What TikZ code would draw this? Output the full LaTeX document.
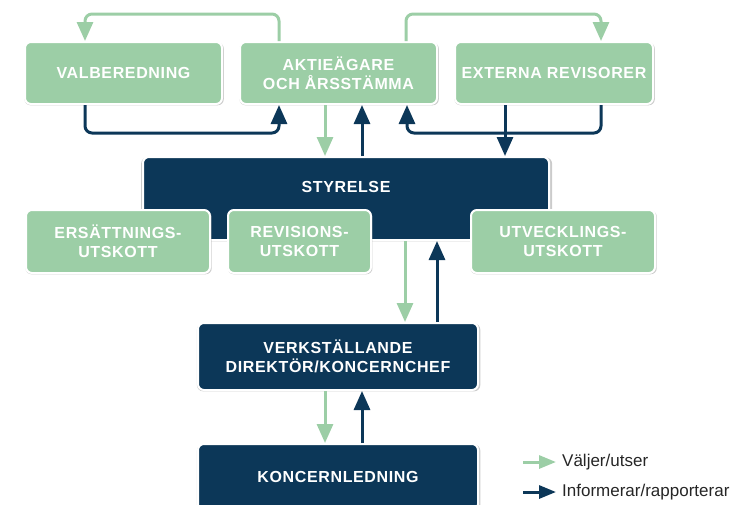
\documentclass[tikz,border=0pt]{standalone}
\usepackage{fontspec}
\setmainfont{Liberation Sans}
\usetikzlibrary{arrows.meta,shadows}
\definecolor{boardgreen}{RGB}{156,206,166}
\definecolor{boardblue}{RGB}{12,55,88}

\begin{document}
\begin{tikzpicture}[x=1pt,y=-1pt,
   boxfont/.style={text=white,align=center,
    font=\fontsize{16}{19}\selectfont\bfseries\addfontfeature{LetterSpace=4}},
   box/.style={rectangle,rounded corners=6pt,draw=white,line width=2pt,
    inner sep=0pt,boxfont,
    drop shadow={shadow xshift=0.6pt,shadow yshift=-0.9pt,shadow scale=1.012,
      opacity=0.45,fill=black!45}},
   greenbox/.style={box,fill=boardgreen,minimum height=62pt},
   bluebox/.style={box,fill=boardblue},
   selects/.style={draw=boardgreen,line width=3pt,
    -{Triangle[length=19pt,width=16pt]}},
   reports/.style={draw=boardblue,line width=3pt,
    -{Triangle[length=19pt,width=16pt]}},
   legtext/.style={anchor=west,inner sep=0pt,text=black!85,
    font=\fontsize{17}{20}\selectfont}
    ]
  \useasboundingbox (0,0) rectangle (733,504);

  % -- top row
  \node[greenbox,minimum width=197pt] at (123.5,73) (val) {VALBEREDNING};
  \node[greenbox,minimum width=197pt] at (338.5,73) (aga) {AKTIEÄGARE\\OCH ÅRSSTÄMMA};
  \node[greenbox,minimum width=198pt] at (554,73) (ext) {EXTERNA REVISORER};

  % -- board and committees
  \node[bluebox,minimum width=406pt,minimum height=83pt] at (346,198.5) (sty) {};
  \node[boxfont] at (346,187) (stytext) {STYRELSE};
  \node[greenbox,minimum width=184pt,minimum height=63pt] at (118,241.5) (ers) {ERSÄTTNINGS-\\UTSKOTT};
  \node[greenbox,minimum width=143pt,minimum height=63pt] at (299.5,241.5) (rev) {REVISIONS-\\UTSKOTT};
  \node[greenbox,minimum width=184pt,minimum height=63pt] at (563,241.5) (utv) {UTVECKLINGS-\\UTSKOTT};

  % -- management
  \node[bluebox,minimum width=280pt,minimum height=67pt] at (338,356.5) (vd) {VERKSTÄLLANDE\\DIREKTÖR/KONCERNCHEF};
  \node[bluebox,minimum width=280pt,minimum height=66pt] at (338,477) (kl) {KONCERNLEDNING};

  % -- arrows between top row
  \draw[selects,rounded corners=7pt] ([xshift=-59.5]aga.north) -- ++(0,-27) -| ([xshift=-38.5]val.north);
  \draw[reports,rounded corners=7pt] ([xshift=-38.5]val.south) -- ++(0,28) -| ([xshift=-59.5]aga.south);
  \draw[selects,rounded corners=7pt] ([xshift=67.5]aga.north) -- ++(0,-27) -| ([xshift=47]ext.north);
  \draw[reports,rounded corners=7pt] ([xshift=47]ext.south) -- ++(0,28) -| ([xshift=68.5]aga.south);

  % -- arrows down the chain
  \draw[reports] ([xshift=-49]ext.south) -- ([xshift=-49]ext.south |- sty.north);
  \draw[selects] ([xshift=-13.5]aga.south) -- ([xshift=-13.5]aga.south |- sty.north);
  \draw[reports] ([xshift=23.5]aga.south |- sty.north) -- ([xshift=23.5]aga.south);
  \draw[selects] ([xshift=67]vd.north |- sty.south) -- ([xshift=67]vd.north);
  \draw[reports] ([xshift=99]vd.north) -- ([xshift=99]vd.north |- sty.south);
  \draw[selects] ([xshift=-13]vd.south) -- ([xshift=-13]vd.south |- kl.north);
  \draw[reports] ([xshift=24]vd.south |- kl.north) -- ([xshift=24]vd.south);

  % -- legend
  \coordinate (legsel) at (523,462);
  \coordinate (legrep) at (523,492);
  \node[legtext] at (562,462) (legseltext) {Väljer/utser};
  \node[legtext] at (562,492) (legreptext) {Informerar/rapporterar};
  \draw[selects,-{Triangle[length=17pt,width=13pt]}] (legsel) -- ([xshift=-6]legseltext.west);
  \draw[reports,-{Triangle[length=17pt,width=13pt]}] (legrep) -- ([xshift=-6]legreptext.west);

\end{tikzpicture}
\end{document}
